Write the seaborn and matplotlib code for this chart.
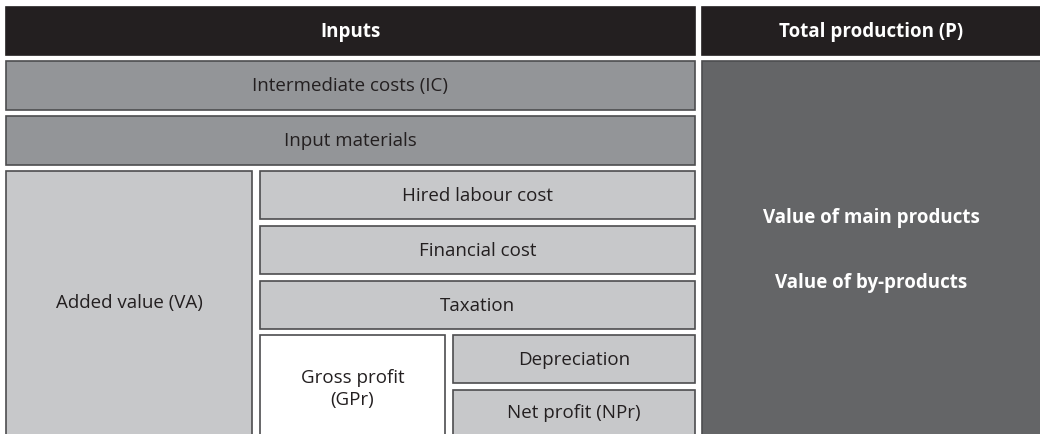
import matplotlib.pyplot as plt
import seaborn as sns

sns.set_theme(style="white")
plt.rcParams['font.family'] = ['Open Sans', 'DejaVu Sans']

# box labels
labels = ['Inputs', 'Total production (P)', 'Intermediate costs (IC)', 'Input materials',
          'Added value (VA)', 'Hired labour cost', 'Financial cost', 'Taxation',
          'Gross profit\n(GPr)', 'Depreciation', 'Net profit (NPr)', '']
# box extents in pixels (left, top, right, bottom)
lefts = [6, 702, 6, 6, 6, 260, 260, 260, 260, 453, 453, 702]
tops = [8, 8, 62, 117, 172, 172, 227, 282, 336, 336, 391, 62]
rights = [695, 1041, 695, 695, 252, 695, 695, 695, 445, 695, 695, 1041]
bottoms = [56, 56, 111, 166, 440, 220, 275, 330, 440, 384, 440, 440]
fills = ['#231f20', '#231f20', '#939598', '#939598', '#c7c8ca', '#c7c8ca', '#c7c8ca',
         '#c7c8ca', '#ffffff', '#c7c8ca', '#c7c8ca', '#646567']
label_y = [32, 32, 86, 141, 303, 196, 251, 306, 389, 360, 413, 0]

products = ['Value of main products', 'Value of by-products']
products_y = [218, 283]

fig, ax = plt.subplots(figsize=(10.4, 4.35), dpi=100)
fig.subplots_adjust(left=0, right=1, bottom=0, top=1)

widths = [r - l for l, r in zip(lefts, rights)]
heights = [b - t for t, b in zip(tops, bottoms)]
edges = ['#231f20' if f == '#231f20' else '#4d4d4f' for f in fills]
ax.bar(lefts, heights, width=widths, bottom=tops, align='edge',
       color=fills, edgecolor=edges, linewidth=1.2)

for lab, l, r, y, f in zip(labels, lefts, rights, label_y, fills):
    if not lab:
        continue
    head = f == '#231f20'
    ax.text((l + r) / 2, y, lab, ha='center', va='center', fontsize=13.5,
            fontweight='bold' if head else 'normal',
            color='white' if head else '#231f20', linespacing=1.25)

for lab, y in zip(products, products_y):
    ax.text((702 + 1041) / 2, y, lab, ha='center', va='center',
            fontsize=13.5, fontweight='bold', color='white')

ax.set_xlim(0, 1040)
ax.set_ylim(435, 0)
ax.axis('off')
fig.savefig('out.png', dpi=100)
